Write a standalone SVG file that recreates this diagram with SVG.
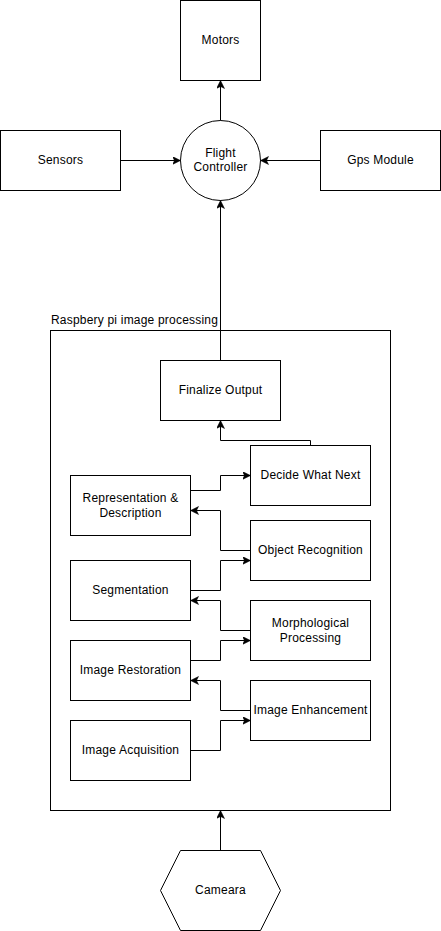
<svg xmlns="http://www.w3.org/2000/svg" width="441" height="931" viewBox="0 0 441 931">
<defs>
<style>
.n{fill:#fff;stroke:#000;stroke-width:1}
.t{font-family:"Liberation Sans",Arial,sans-serif;font-size:12px;fill:#000;text-anchor:middle;letter-spacing:0.2px}
.e{fill:none;stroke:#000;stroke-width:1;marker-end:url(#a)}
</style>
<marker id="a" markerUnits="userSpaceOnUse" markerWidth="10" markerHeight="10" refX="8" refY="4" orient="auto">
<path d="M0,0 L8,4 L0,8 L2,4 z" fill="#000" stroke="#000" stroke-width="0.5"/>
</marker>
</defs>
<rect width="441" height="931" fill="#fff"/>
<g id="container">
<rect class="n" x="50.5" y="330.5" width="340" height="480"/>
<text class="t" x="51" y="324" style="text-anchor:start">Raspbery pi image processing</text>
</g>
<g id="motors"><rect class="n" x="180.5" y="0.5" width="80" height="80"/><text class="t" x="220.5" y="44">Motors</text></g>
<g id="sensors"><rect class="n" x="0.5" y="130.5" width="120" height="60"/><text class="t" x="60.5" y="164">Sensors</text></g>
<g id="fc"><circle class="n" cx="220.5" cy="160.5" r="40"/><text class="t" x="220.5" y="157">Flight</text><text class="t" x="220.5" y="171">Controller</text></g>
<g id="gps"><rect class="n" x="320.5" y="130.5" width="120" height="60"/><text class="t" x="380.5" y="164">Gps Module</text></g>
<g id="finalize"><rect class="n" x="160.5" y="360.5" width="120" height="60"/><text class="t" x="220.5" y="394">Finalize Output</text></g>
<g id="decide"><rect class="n" x="250.5" y="445.5" width="120" height="60"/><text class="t" x="310.5" y="479">Decide What Next</text></g>
<g id="rep"><rect class="n" x="70.5" y="475.5" width="120" height="60"/><text class="t" x="130.5" y="502">Representation &amp;</text><text class="t" x="130.5" y="517">Description</text></g>
<g id="obj"><rect class="n" x="250.5" y="520.5" width="120" height="60"/><text class="t" x="310.5" y="554">Object Recognition</text></g>
<g id="seg"><rect class="n" x="70.5" y="560.5" width="120" height="60"/><text class="t" x="130.5" y="594">Segmentation</text></g>
<g id="morph"><rect class="n" x="250.5" y="600.5" width="120" height="60"/><text class="t" x="310.5" y="627">Morphological</text><text class="t" x="310.5" y="642">Processing</text></g>
<g id="rest"><rect class="n" x="70.5" y="640.5" width="120" height="60"/><text class="t" x="130.5" y="674">Image Restoration</text></g>
<g id="enh"><rect class="n" x="250.5" y="680.5" width="120" height="60"/><text class="t" x="310.5" y="714">Image Enhancement</text></g>
<g id="acq"><rect class="n" x="70.5" y="720.5" width="120" height="60"/><text class="t" x="130.5" y="754">Image Acquisition</text></g>
<g id="camera"><polygon class="n" points="180.5,850.5 260.5,850.5 280.5,890.5 260.5,930.5 180.5,930.5 160.5,890.5"/><text class="t" x="220.5" y="894">Cameara</text></g>
<g id="edges">
<path class="e" d="M220.5,120.5 V80.5"/>
<path class="e" d="M120.5,160.5 H180.5"/>
<path class="e" d="M320.5,160.5 H260.5"/>
<path class="e" d="M220.5,360.5 V200.5"/>
<path class="e" d="M310.5,445.5 V440.5 H220.5 V420.5"/>
<path class="e" d="M190.5,490.5 H220.5 V475.5 H250.5"/>
<path class="e" d="M250.5,550.5 H220.5 V510.5 H190.5"/>
<path class="e" d="M190.5,590.5 H220.5 V560.5 H250.5"/>
<path class="e" d="M250.5,630.5 H220.5 V600.5 H190.5"/>
<path class="e" d="M190.5,660.5 H220.5 V640.5 H250.5"/>
<path class="e" d="M250.5,710.5 H220.5 V680.5 H190.5"/>
<path class="e" d="M190.5,750.5 H220.5 V720.5 H250.5"/>
<path class="e" d="M220.5,850.5 V810.5"/>
</g>
</svg>
